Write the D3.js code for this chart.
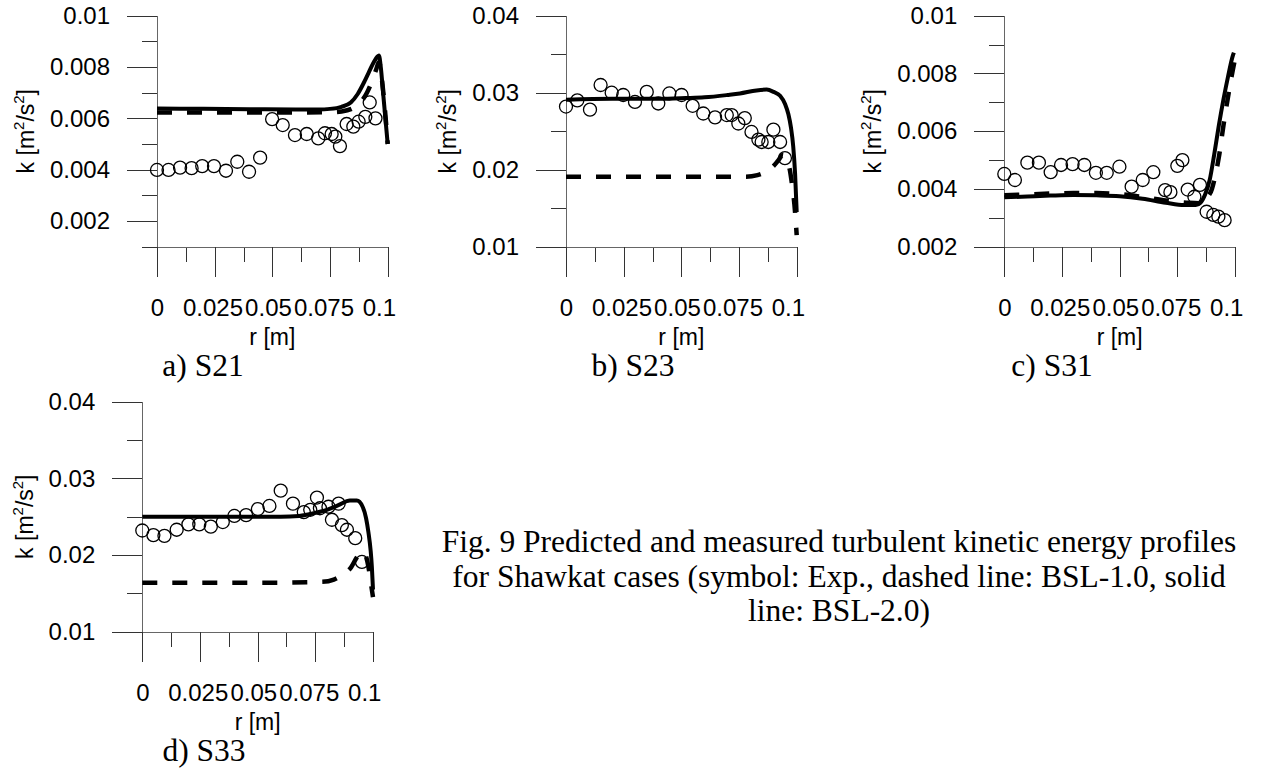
<!DOCTYPE html>
<html><head><meta charset="utf-8">
<script src="https://cdn.jsdelivr.net/npm/d3@7"></script>
<style>
body{margin:0;background:#fff;}
svg{display:block;}
</style></head><body>
<svg id="chart" width="1261" height="771"></svg>
<script>
// ---------- tick values / labels ----------
const xMajorTicks = [0, 0.025, 0.05, 0.075, 0.1];
const xMajorLabels = ["0", "0.025", "0.05", "0.075", "0.1"];
const xMinorTicks = [0.0125, 0.0375, 0.0625, 0.0875];

const ySmallMajor = [0.002, 0.004, 0.006, 0.008, 0.01];
const ySmallLabels = ["0.002", "0.004", "0.006", "0.008", "0.01"];
const ySmallMinorA = [0.001, 0.003, 0.005, 0.007, 0.009];
const ySmallMinorC = [0.003, 0.005, 0.007, 0.009];
const yLargeMajor = [0.01, 0.02, 0.03, 0.04];
const yLargeLabels = ["0.01", "0.02", "0.03", "0.04"];
const yLargeMinor = [0.015, 0.025, 0.035];

const captions = ["a) S21", "b) S23", "c) S31", "d) S33"];
const figCaption = [
  "Fig. 9 Predicted and measured turbulent kinetic energy profiles",
  "for Shawkat cases (symbol: Exp., dashed line: BSL-1.0, solid",
  "line: BSL-2.0)"
];

// ---------- S21 ----------
const expA_r = [0,0.0050,0.0100,0.0150,0.0196,0.0247,0.0299,0.0348,0.0399,0.0447,0.0499,0.0545,0.0598,0.0649,0.0699,0.0728,0.0757,0.0773,0.0793,0.0822,0.0851,0.0874,0.0903,0.0922,0.0947];
const expA_k = [0.00399,0.00399,0.00408,0.00406,0.00414,0.00414,0.00396,0.00431,0.00392,0.00447,0.00597,0.00574,0.00535,0.00539,0.00522,0.00542,0.00539,0.00529,0.00492,0.00578,0.00568,0.00587,0.00606,0.00662,0.00600];
const solidA_r = [0,0.02,0.04,0.06,0.07,0.075,0.08,0.084,0.087,0.09,0.092,0.094,0.0955,0.0962,0.097,0.098,0.099,0.1];
const solidA_k = [0.00638,0.00637,0.00636,0.00635,0.00635,0.00637,0.00645,0.00662,0.00695,0.00745,0.00783,0.0082,0.0084,0.00845,0.0080,0.0070,0.0060,0.0050];
const dashA_r = [0,0.03,0.06,0.075,0.08,0.085,0.088,0.091,0.093,0.095,0.0962,0.098,0.1];
const dashA_k = [0.00623,0.00623,0.00623,0.00624,0.00627,0.0064,0.0066,0.0070,0.0074,0.0079,0.0082,0.0071,0.0050];

// ---------- S23 ----------
const expB_r = [0,0.0049,0.0104,0.0150,0.0198,0.0248,0.0299,0.0350,0.0400,0.0448,0.0501,0.0549,0.0595,0.0646,0.0697,0.0718,0.0747,0.0775,0.0804,0.0834,0.0848,0.0877,0.0899,0.0928,0.0949];
const expB_k = [0.0282,0.0290,0.0278,0.0310,0.0300,0.0297,0.0288,0.0301,0.0286,0.0299,0.0297,0.0283,0.0273,0.0268,0.0271,0.0271,0.0260,0.0267,0.0249,0.0239,0.0236,0.0236,0.0252,0.0236,0.0215];
const solidB_r = [0,0.02,0.04,0.052,0.06,0.07,0.0754,0.0826,0.087,0.09,0.0928,0.095,0.0964,0.0975,0.0985,0.0993,0.1];
const solidB_k = [0.0291,0.0292,0.0292,0.0293,0.0294,0.0297,0.0299,0.0303,0.0304,0.0301,0.0296,0.0285,0.0272,0.0255,0.0230,0.0195,0.0145];
const dashB_r = [0,0.03,0.06,0.078,0.083,0.087,0.09,0.092,0.094,0.0955,0.097,0.098,0.099,0.1];
const dashB_k = [0.0191,0.0191,0.0191,0.0191,0.0193,0.0198,0.0205,0.0212,0.0219,0.0214,0.0200,0.0180,0.0155,0.0115];

// ---------- S31 ----------
const expC_r = [0,0.0046,0.0100,0.0150,0.0201,0.0246,0.0296,0.0347,0.0397,0.0444,0.0499,0.0552,0.0600,0.0646,0.0697,0.0720,0.0750,0.0772,0.0795,0.0824,0.0848,0.0877,0.0906,0.0928,0.0955];
const expC_k = [0.00452,0.00431,0.00491,0.00491,0.00458,0.00483,0.00486,0.00483,0.00456,0.00456,0.00477,0.00408,0.00431,0.00458,0.00396,0.00389,0.00480,0.00500,0.00398,0.00373,0.00414,0.00321,0.00310,0.00304,0.00292];
const solidC_r = [0,0.01,0.02,0.03,0.04,0.05,0.06,0.07,0.078,0.083,0.085,0.087,0.089,0.091,0.093,0.095,0.097,0.099,0.0995];
const solidC_k = [0.00371,0.00374,0.00377,0.00379,0.00378,0.00375,0.00366,0.00352,0.00344,0.00344,0.00352,0.00380,0.00430,0.00520,0.00620,0.00710,0.00790,0.00860,0.00872];
const dashC_r = [0,0.01,0.02,0.03,0.04,0.05,0.06,0.07,0.08,0.086,0.088,0.09,0.091,0.093,0.095,0.097,0.099,0.1];
const dashC_k = [0.00378,0.00381,0.00384,0.00386,0.00386,0.00382,0.00372,0.00360,0.00352,0.00350,0.00370,0.00400,0.00430,0.00510,0.00620,0.00720,0.00810,0.00850];

// ---------- S33 ----------
const expD_r = [0,0.0048,0.0096,0.0149,0.0200,0.0247,0.0297,0.0349,0.0399,0.0450,0.0501,0.0551,0.0600,0.0653,0.0700,0.0728,0.0757,0.0770,0.0807,0.0822,0.0851,0.0865,0.0887,0.0923,0.0952];
const expD_k = [0.0232,0.0226,0.0225,0.0233,0.0240,0.0240,0.0237,0.0243,0.0251,0.0252,0.0260,0.0264,0.0284,0.0267,0.0256,0.0259,0.0275,0.0261,0.0263,0.0246,0.0267,0.0239,0.0233,0.0222,0.0191];
const solidD_r = [0,0.02,0.04,0.06,0.068,0.075,0.08,0.085,0.09,0.093,0.0955,0.097,0.098,0.099,0.0995,0.1];
const solidD_k = [0.0250,0.0250,0.0250,0.0250,0.0251,0.0255,0.0259,0.0265,0.0271,0.0271,0.0263,0.0248,0.0230,0.0205,0.0185,0.0155];
const dashD_r = [0,0.03,0.06,0.078,0.083,0.087,0.0905,0.093,0.0955,0.097,0.098,0.099,0.1];
const dashD_k = [0.0164,0.0164,0.0164,0.0165,0.0168,0.0175,0.0184,0.0197,0.0205,0.0198,0.0185,0.0165,0.0145];

// ---------- layout ----------
const PW = 230.7;
const layout = [
  {x0:157,    top:15.7,  bottom:246.7, capX:203, yDom:[0.001,0.01], yMaj:ySmallMajor, yLab:ySmallLabels, yMin:ySmallMinorA,
   exp:[expA_r,expA_k], solid:[solidA_r,solidA_k], dash:[dashA_r,dashA_k]},
  {x0:566,    top:15.7,  bottom:246.7, capX:633, yDom:[0.01,0.04], yMaj:yLargeMajor, yLab:yLargeLabels, yMin:yLargeMinor,
   exp:[expB_r,expB_k], solid:[solidB_r,solidB_k], dash:[dashB_r,dashB_k]},
  {x0:1004.3, top:15.7,  bottom:246.7, capX:1052, yDom:[0.002,0.01], yMaj:ySmallMajor, yLab:ySmallLabels, yMin:ySmallMinorC,
   exp:[expC_r,expC_k], solid:[solidC_r,solidC_k], dash:[dashC_r,dashC_k]},
  {x0:142.3,  top:401.7, bottom:631.7, capX:204, yDom:[0.01,0.04], yMaj:yLargeMajor, yLab:yLargeLabels, yMin:yLargeMinor,
   exp:[expD_r,expD_k], solid:[solidD_r,solidD_k], dash:[dashD_r,dashD_k]}
];

const svg = d3.select("#chart");
const SANS = "'Liberation Sans', Arial, sans-serif";
const SERIF = "'Liberation Serif', 'Times New Roman', serif";
const zip = (a,b) => a.map((v,i)=>[v,b[i]]);

function styleAxis(g){
  g.select(".domain").attr("stroke","#666").attr("stroke-width",1);
  g.selectAll(".tick line").attr("stroke","#333").attr("stroke-width",1);
  g.selectAll("text").attr("font-family",SANS).attr("font-size","24px").attr("fill","#000");
  g.attr("shape-rendering","crispEdges");
}

layout.forEach((p,i)=>{
  const x = d3.scaleLinear().domain([0,0.1]).range([p.x0, p.x0+PW]);
  const y = d3.scaleLinear().domain(p.yDom).range([p.bottom, p.top]);
  const g = svg.append("g");

  // y axis
  g.append("g").attr("transform",`translate(${p.x0},0)`)
    .call(d3.axisLeft(y).tickValues(p.yMin).tickSize(15).tickSizeOuter(0).tickFormat(""))
    .call(styleAxis);
  const yAx = g.append("g").attr("transform",`translate(${p.x0},0)`)
    .call(d3.axisLeft(y).tickValues(p.yMaj).tickSize(30).tickSizeOuter(0).tickPadding(17)
      .tickFormat((d,j)=>p.yLab[j]))
    .call(styleAxis);

  // x axis
  g.append("g").attr("transform",`translate(0,${p.bottom})`)
    .call(d3.axisBottom(x).tickValues(xMinorTicks).tickSize(15).tickSizeOuter(0).tickFormat(""))
    .call(styleAxis);
  g.append("g").attr("transform",`translate(0,${p.bottom})`)
    .call(d3.axisBottom(x).tickValues(xMajorTicks).tickSize(30).tickSizeOuter(0).tickPadding(22)
      .tickFormat((d,j)=>xMajorLabels[j]))
    .call(styleAxis)
    .call(ax => ax.selectAll(".tick text").attr("dx", d => -(x(d)-p.x0)*0.038));

  // y title
  let minX = Infinity;
  yAx.selectAll("text").each(function(){ const b=this.getBBox(); minX=Math.min(minX, p.x0 + b.x); });
  const ty = (p.top+p.bottom)/2;
  const yt = g.append("text")
    .attr("transform",`translate(${minX-24},${ty}) rotate(-90)`)
    .attr("text-anchor","middle").attr("dominant-baseline","central")
    .attr("font-family",SANS).attr("font-size","23px").attr("fill","#000");
  yt.append("tspan").text("k [m");
  yt.append("tspan").attr("dy",-8).attr("font-size","15px").text("2");
  yt.append("tspan").attr("dy",8).text("/s");
  yt.append("tspan").attr("dy",-8).attr("font-size","15px").text("2");
  yt.append("tspan").attr("dy",8).text("]");

  // x title
  g.append("text")
    .attr("x", p.x0+PW/2).attr("y", p.bottom+98)
    .attr("text-anchor","middle")
    .attr("font-family",SANS).attr("font-size","23px").attr("fill","#000")
    .text("r [m]");

  // caption
  g.append("text")
    .attr("x", p.capX).attr("y", p.bottom+129.5)
    .attr("text-anchor","middle")
    .attr("font-family",SERIF).attr("font-size","31.5px").attr("fill","#000")
    .text(captions[i]);

  const line = d3.line().x(d=>x(d[0])).y(d=>y(d[1])).curve(d3.curveMonotoneX);

  g.append("path").datum(zip(p.dash[0],p.dash[1]))
    .attr("d",line).attr("fill","none").attr("stroke","#000")
    .attr("stroke-width",4.5).attr("stroke-dasharray","15,15");
  g.append("path").datum(zip(p.solid[0],p.solid[1]))
    .attr("d",line).attr("fill","none").attr("stroke","#000")
    .attr("stroke-width",4);

  g.append("g").selectAll("circle").data(zip(p.exp[0],p.exp[1])).join("circle")
    .attr("cx",d=>x(d[0])).attr("cy",d=>y(d[1])).attr("r",6.5)
    .attr("fill","none").attr("stroke","#000").attr("stroke-width",1.3);
});

// figure caption
const cap = svg.append("text")
  .attr("text-anchor","middle")
  .attr("font-family",SERIF).attr("font-size","31.5px").attr("fill","#000");
figCaption.forEach((t,i)=>{
  cap.append("tspan").attr("x",839).attr("y",552 + i*34.5).text(t);
});
</script></body></html>
